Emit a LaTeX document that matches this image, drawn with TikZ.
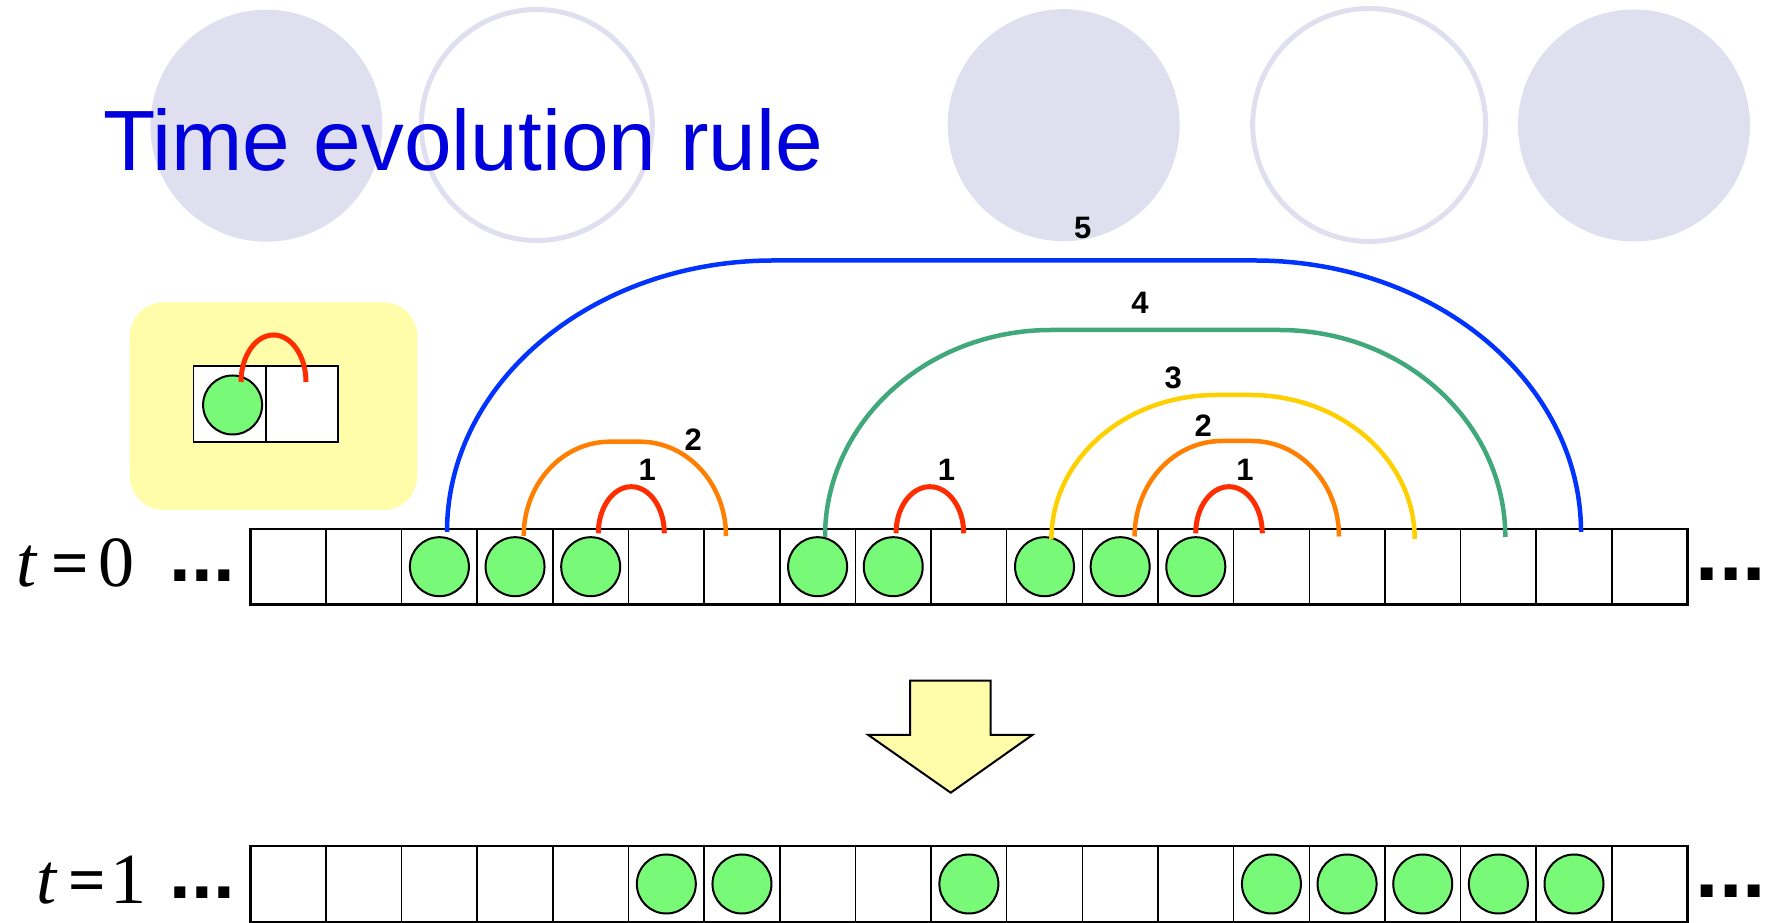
\documentclass[tikz,border=0pt]{standalone}
\usepackage{fontspec}
\setmainfont{Liberation Sans}
\newfontfamily\serifF{Liberation Serif}
\usetikzlibrary{calc}
\definecolor{lav}{RGB}{223,223,239}
\definecolor{boxyel}{RGB}{255,252,170}
\definecolor{ballgreen}{RGB}{120,250,120}
\definecolor{titleblue}{RGB}{0,0,221}
\definecolor{arcred}{RGB}{255,45,0}
\definecolor{arcorange}{RGB}{255,128,0}
\definecolor{arcyellow}{RGB}{255,208,0}
\definecolor{arcgreen}{RGB}{64,168,122}
\definecolor{arcblue}{RGB}{0,51,255}
\newcommand{\archpath}[5]{% style, start, width, height, flat
  \pgfmathsetmacro\archrx{(#3-#5)/2}
  \draw[archline,#1] (#2) arc[start angle=180,end angle=90,x radius=\archrx,y radius=#4]
     -- ++(#5,0) arc[start angle=90,end angle=0,x radius=\archrx,y radius=#4];
}
\newcommand{\eqsign}{\raisebox{1.5pt}{\fontsize{66}{68}\selectfont\bfseries =}}
\begin{document}
\begin{tikzpicture}[x=1pt,y=1pt,
  cellbox/.style={draw=black,line width=1.5pt,fill=white,minimum width=75.64pt,minimum height=75.64pt,inner sep=0pt,outer sep=0pt},
  minicell/.style={draw=black,line width=1.8pt,fill=white,minimum width=72.3pt,minimum height=76pt,inner sep=0pt,outer sep=0pt},
  ballc/.style={circle,draw=black,line width=2pt,fill=ballgreen,minimum size=59pt,inner sep=0pt},
  bgdisc/.style={circle,fill=lav,minimum size=232pt,inner sep=0pt},
  bgring/.style={circle,draw=lav,line width=5pt,minimum size=231pt,inner sep=0pt},
  archline/.style={line width=4.5pt},
  redarch/.style={arcred,line width=5pt},
  numlab/.style={font=\fontsize{31}{34}\selectfont\bfseries,inner sep=0pt},
  tlab/.style={anchor=base west,inner sep=0pt,font=\serifF\fontsize{72}{80}\selectfont},
  dotsl/.style={anchor=base west,inner sep=0pt,font=\fontsize{78}{80}\selectfont\bfseries},
  dotsr/.style={anchor=base west,inner sep=0pt,font=\fontsize{84}{86}\selectfont\bfseries}
]
\useasboundingbox (0,0) rectangle (1773,923);
% background decoration
\node[bgdisc] (d1) at (266.4,797.3) {};
\node[bgring] (d2) at (536.8,798) {};
\node[bgdisc] (d3) at (1063.7,797.8) {};
\node[bgring,minimum size=233pt] (d4) at (1369.2,798) {};
\node[bgdisc] (d5) at (1634,797.5) {};
% title
\node[anchor=base west,inner sep=0pt,text=titleblue,font=\fontsize{85.6}{100}\selectfont] (title) at (103,752.3) {Time evolution rule};
% rule box
\node[fill=boxyel,rounded corners=34pt,minimum width=287.6pt,minimum height=207.7pt,inner sep=0pt] (rulebox) at (273.5,516.85) {};
\node[minicell] (m1) at (229.65,519) {};
\node[minicell] (m2) at (301.95,519) {};
\node[ballc] (mb) at (232.6,518) {};
\coordinate (ms) at (241,541);
\archpath{redarch}{ms}{65}{47}{0}
% rows of cells
\foreach \i in {1,...,19}{
  \node[cellbox] (a\i) at ({250.3+(\i-0.5)*75.64},356.3) {};
  \node[cellbox] (b\i) at ({250.3+(\i-0.5)*75.64},39) {};
}
\draw[line width=2.5pt] (a1.south west) rectangle (a19.north east);
\draw[line width=2.5pt] (b1.south west) rectangle (b19.north east);
\foreach \i in {3,4,5,8,9,11,12,13}{ \node[ballc] (pa\i) at (a\i) {}; }
\foreach \i in {6,7,10,14,15,16,17,18}{ \node[ballc] (pb\i) at (b\i) {}; }
% arches
\coordinate (s5) at (447,391);
\coordinate (s4) at (825,386);
\coordinate (s3) at (1051.4,384);
\coordinate (s2r) at (1134.6,386.5);
\coordinate (s2l) at (523.7,387);
\coordinate (s1l) at (598.3,389.7);
\coordinate (s1m) at (896,389.7);
\coordinate (s1r) at (1195.7,389.7);
\archpath{arcblue}{s5}{1134}{271.5}{481}
\archpath{arcgreen}{s4}{680.3}{207}{228}
\archpath{arcyellow}{s3}{363.3}{144}{34}
\archpath{arcorange}{s2r}{204.4}{95.5}{30}
\archpath{arcorange}{s2l}{202.3}{94.3}{30}
\archpath{redarch}{s1l}{66}{46.6}{0}
\archpath{redarch}{s1m}{67.7}{46.6}{0}
\archpath{redarch}{s1r}{66.6}{46.6}{0}
% arch labels
\node[numlab] (n5) at (1082.7,695.5) {5};
\node[numlab] (n4) at (1140,620) {4};
\node[numlab] (n3) at (1173.3,544.7) {3};
\node[numlab] (n2r) at (1203.3,497) {2};
\node[numlab] (n1r) at (1245,453.3) {1};
\node[numlab] (n1m) at (946.4,453.3) {1};
\node[numlab] (n2l) at (693.3,483) {2};
\node[numlab] (n1l) at (647.3,453.3) {1};
% time labels and ellipses
\node[tlab] (t0) at (16,336) {\itshape t\upshape\hspace{15pt}\eqsign\hspace{9.6pt}0};
\node[tlab] (t1) at (36,19) {\itshape t\upshape\hspace{12pt}\eqsign\hspace{4.4pt}1};
\node[dotsl] (e0l) at (169.5,341.3) {...};
\node[dotsl] (e1l) at (169.5,24.7) {...};
\node[dotsr] (e0r) at (1695.7,342) {...};
\node[dotsr] (e1r) at (1695.7,25.7) {...};
% down arrow
\draw[fill=boxyel,line width=2pt,line join=miter] (910,242.3) -- (910,188) -- (868.3,188) -- (950.7,130.3) -- (1032.3,188) -- (990.5,188) -- (990.5,242.3) -- cycle;
\end{tikzpicture}
\end{document}
